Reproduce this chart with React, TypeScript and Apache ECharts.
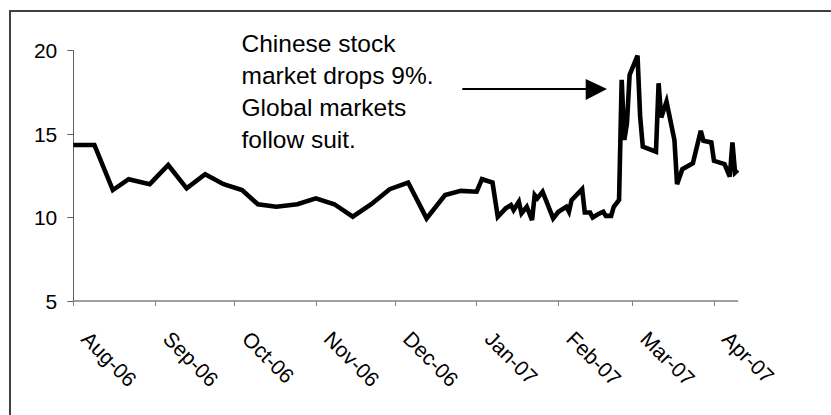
import React, { useEffect, useRef } from "react";
import * as echarts from "echarts";

const dates: string[] = [
  "2006-08-01", "2006-08-09", "2006-08-16", "2006-08-22", "2006-08-30",
  "2006-09-06", "2006-09-13", "2006-09-20", "2006-09-27",
  "2006-10-04", "2006-10-10", "2006-10-17", "2006-10-25",
  "2006-11-01", "2006-11-08", "2006-11-15", "2006-11-22", "2006-11-29",
  "2006-12-06", "2006-12-13", "2006-12-20", "2006-12-26",
  "2007-01-01", "2007-01-03", "2007-01-07", "2007-01-09", "2007-01-12", "2007-01-14",
  "2007-01-15", "2007-01-17", "2007-01-18", "2007-01-20", "2007-01-22", "2007-01-23",
  "2007-01-24", "2007-01-26", "2007-01-30",
  "2007-02-01", "2007-02-04", "2007-02-05", "2007-02-06", "2007-02-10", "2007-02-11",
  "2007-02-13", "2007-02-14", "2007-02-16", "2007-02-18", "2007-02-19", "2007-02-21",
  "2007-02-22", "2007-02-24", "2007-02-25", "2007-02-26", "2007-02-27", "2007-02-28",
  "2007-03-03", "2007-03-04", "2007-03-05", "2007-03-10", "2007-03-11", "2007-03-12",
  "2007-03-14", "2007-03-17", "2007-03-18", "2007-03-20", "2007-03-24", "2007-03-27",
  "2007-03-28", "2007-03-31",
  "2007-04-01", "2007-04-05", "2007-04-07", "2007-04-08", "2007-04-09", "2007-04-10",
];

const values: number[] = [
  14.35, 14.35, 11.65, 12.3, 12.0,
  13.15, 11.75, 12.6, 12.0,
  11.65, 10.8, 10.65, 10.8,
  11.15, 10.8, 10.05, 10.8, 11.7,
  12.1, 9.95, 11.35, 11.6,
  11.55, 12.3, 12.1, 10.05, 10.55, 10.75,
  10.45, 10.95, 10.25, 10.65, 9.85, 11.35,
  11.15, 11.55, 9.95,
  10.35, 10.65, 10.35, 11.05, 11.7, 10.3,
  10.3, 10.0, 10.2, 10.35, 10.1, 10.1,
  10.65, 11.05, 18.25, 14.65, 15.65, 18.55,
  19.7, 16.05, 14.25, 13.95, 18.05, 16.0,
  16.95, 14.65, 12.0, 12.9, 13.25, 15.2,
  14.6, 14.5,
  13.4, 13.2, 12.45, 14.5, 12.7, 12.85,
];

const yTicks = { min: 5, max: 20, interval: 5 };
const xRange = { min: "2006-08-01", max: "2007-04-10" };
const annotationLines: string[] = [
  "Chinese stock",
  "market drops 9%.",
  "Global markets",
  "follow suit.",
];

const FONT = "'Liberation Sans', Arial, Helvetica, sans-serif";

export default function App() {
  const ref = useRef<HTMLDivElement>(null);

  useEffect(() => {
    if (!ref.current) return;
    const chart = echarts.init(ref.current, undefined, { renderer: "svg" });
    const DAY = 86400000;
    chart.setOption({
      animation: false,
      backgroundColor: "#ffffff",
      grid: { left: 73.3, right: 93.3, top: 50.7, bottom: 114, containLabel: false },
      xAxis: {
        type: "time",
        min: xRange.min,
        max: xRange.max,
        minInterval: 28 * DAY,
        maxInterval: 31 * DAY,
        splitLine: { show: false },
        axisLine: { show: true, lineStyle: { color: "#808080", width: 1.5 } },
        axisTick: { show: true, length: 5, lineStyle: { color: "#808080", width: 1 } },
        axisLabel: {
          formatter: "{MMM}-{yy}",
          rotate: -45,
          margin: 22,
          padding: [0, 0, 0, 17],
          color: "#000",
          fontSize: 21,
          fontFamily: FONT,
          hideOverlap: false,
        },
      },
      yAxis: {
        type: "value",
        min: yTicks.min,
        max: yTicks.max,
        interval: yTicks.interval,
        splitLine: { show: false },
        axisLine: { show: true, lineStyle: { color: "#606060", width: 1 } },
        axisTick: { show: true, length: 6, lineStyle: { color: "#606060", width: 1 } },
        axisLabel: { color: "#000", fontSize: 21, fontFamily: FONT, margin: 16 },
      },
      series: [
        {
          type: "line",
          data: dates.map((d, i) => [d, values[i]]),
          symbol: "none",
          clip: false,
          lineStyle: { color: "#000", width: 4.6, join: "miter", miterLimit: 10, cap: "butt" },
        },
      ],
      graphic: [
        {
          type: "rect",
          shape: { x: 10, y: 11, width: 900, height: 500 },
          style: { fill: "none", stroke: "#404040", lineWidth: 2 },
          silent: true,
          z: 0,
        },
        {
          type: "text",
          x: 241.5,
          y: 27,
          style: {
            text: annotationLines.join("\n"),
            font: `24.5px ${FONT}`,
            fill: "#000",
            lineHeight: 32,
            verticalAlign: "top",
            align: "left",
          },
          z: 10,
        },
        {
          type: "line",
          shape: { x1: 462.3, y1: 89, x2: 590, y2: 89 },
          style: { stroke: "#000", lineWidth: 2.2 },
          z: 10,
        },
        {
          type: "polygon",
          shape: { points: [[585.7, 79], [607, 89], [585.7, 100]] },
          style: { fill: "#000" },
          z: 10,
        },
      ],
    });
    return () => chart.dispose();
  }, []);

  return (
    <div
      ref={ref}
      style={{ position: "fixed", left: 0, top: 0, width: 831, height: 415, background: "#fff" }}
    />
  );
}
